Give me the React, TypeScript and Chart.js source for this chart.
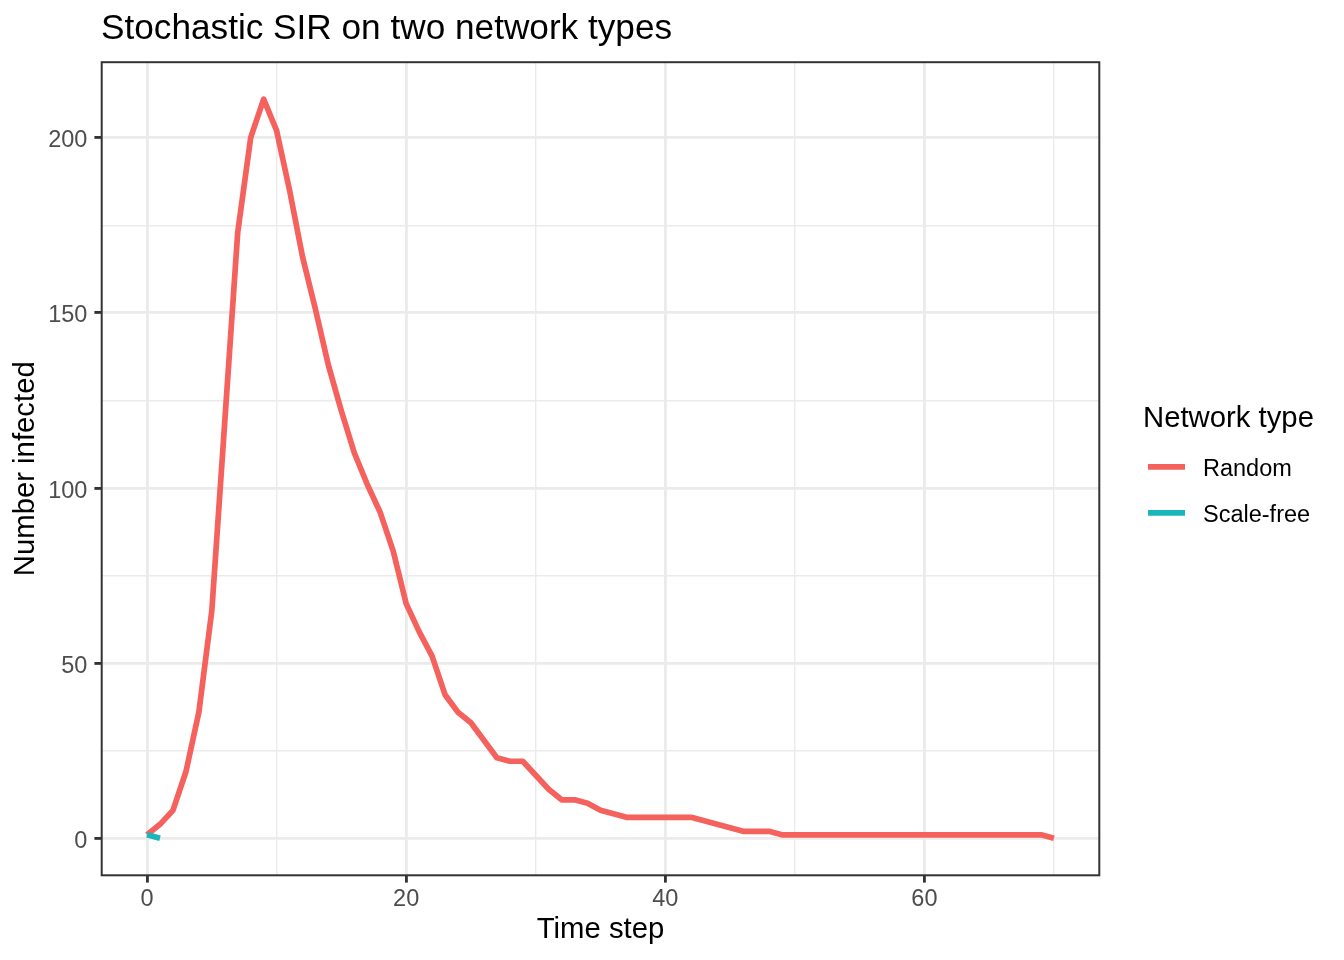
import { useRef, useEffect } from "react";
import { Chart, registerables } from "chart.js";

Chart.register(...registerables);

// Time steps and number infected
const timeSteps = [
  0, 1, 2, 3, 4, 5, 6, 7, 8, 9, 10, 11, 12, 13, 14, 15, 16, 17, 18, 19, 20,
  21, 22, 23, 24, 25, 26, 27, 28, 29, 30, 31, 32, 33, 34, 35, 36, 37, 38, 39,
  40, 41, 42, 43, 44, 45, 46, 47, 48, 49, 50, 51, 52, 53, 54, 55, 56, 57, 58,
  59, 60, 61, 62, 63, 64, 65, 66, 67, 68, 69, 70,
];
const randomInfected = [
  1, 4, 8, 19, 36, 65, 119, 173, 200, 211, 202, 185, 166, 151, 135, 122, 110,
  101, 93, 82, 67, 59, 52, 41, 36, 33, 28, 23, 22, 22, 18, 14, 11, 11, 10, 8,
  7, 6, 6, 6, 6, 6, 6, 5, 4, 3, 2, 2, 2, 1, 1, 1, 1, 1, 1, 1, 1, 1, 1, 1, 1, 1,
  1, 1, 1, 1, 1, 1, 1, 1, 0,
];
const scaleFreeSteps = [0, 1];
const scaleFreeInfected = [1, 0];

const seriesNames = ["Random", "Scale-free"];
const seriesColors = ["#F5615C", "#19B6BB"];

const xMajorTicks = [0, 20, 40, 60];
const xMinorTicks = [10, 30, 50, 70];
const yMajorTicks = [0, 50, 100, 150, 200];
const yMinorTicks = [25, 75, 125, 175];

const FONT = "'Liberation Sans', Arial, Helvetica, sans-serif";

const panelBorder = {
  id: "panelBorder",
  afterDraw(chart: any) {
    const { ctx, chartArea } = chart;
    ctx.save();
    ctx.strokeStyle = "#333333";
    ctx.lineWidth = 2;
    ctx.strokeRect(
      chartArea.left,
      chartArea.top,
      chartArea.right - chartArea.left,
      chartArea.bottom - chartArea.top
    );
    ctx.restore();
  },
};

const titleAndLegend = {
  id: "titleAndLegend",
  afterDraw(chart: any) {
    const { ctx } = chart;
    ctx.save();
    ctx.fillStyle = "#000000";
    ctx.textAlign = "left";
    ctx.textBaseline = "alphabetic";
    ctx.font = `35.2px ${FONT}`;
    ctx.fillText("Stochastic SIR on two network types", 101, 39);

    ctx.font = `29.3px ${FONT}`;
    ctx.fillText("Network type", 1143, 426.7);

    ctx.font = `23.5px ${FONT}`;
    seriesNames.forEach((name, i) => {
      const cy = 466.8 + i * 46;
      ctx.strokeStyle = seriesColors[i];
      ctx.lineWidth = 5.7;
      ctx.lineCap = "butt";
      ctx.beginPath();
      ctx.moveTo(1148, cy);
      ctx.lineTo(1185, cy);
      ctx.stroke();
      ctx.fillStyle = "#000000";
      ctx.fillText(name, 1203, cy + 9.5);
    });
    ctx.restore();
  },
};

export default function App() {
  const canvasRef = useRef<HTMLCanvasElement>(null);

  useEffect(() => {
    let chart: Chart;
    if (canvasRef.current) {
      const isMajor = (axis: number[], v: number) => axis.includes(v);
      chart = new Chart(canvasRef.current, {
        type: "line",
        data: {
          datasets: [
            {
              label: seriesNames[0],
              data: randomInfected.map((y, i) => ({ x: timeSteps[i], y })),
              borderColor: seriesColors[0],
              backgroundColor: seriesColors[0],
              borderWidth: 5.7,
              pointRadius: 0,
              tension: 0,
              borderCapStyle: "butt",
              borderJoinStyle: "round",
              order: 2,
            },
            {
              label: seriesNames[1],
              data: scaleFreeInfected.map((y, i) => ({ x: scaleFreeSteps[i], y })),
              borderColor: seriesColors[1],
              backgroundColor: seriesColors[1],
              borderWidth: 5.7,
              pointRadius: 0,
              tension: 0,
              borderCapStyle: "butt",
              borderJoinStyle: "round",
              order: 1,
            },
          ],
        },
        options: {
          animation: false,
          responsive: true,
          maintainAspectRatio: false,
          layout: { padding: { top: 62.2, right: 244.7, bottom: 0, left: 0 } },
          plugins: {
            legend: { display: false },
            title: { display: false },
            tooltip: { enabled: false },
          },
          scales: {
            x: {
              type: "linear",
              min: -3.5,
              max: 73.5,
              afterFit: (s: any) => {
                s.height = 84.7;
              },
              afterBuildTicks: (s: any) => {
                s.ticks = [...xMajorTicks, ...xMinorTicks]
                  .sort((a, b) => a - b)
                  .map((v) => ({ value: v }));
              },
              border: { display: false },
              grid: {
                color: "#EBEBEB",
                lineWidth: (c: any) => (isMajor(xMajorTicks, c.tick?.value) ? 2.84 : 1.42),
                tickLength: 7.3,
                tickColor: (c: any) => (isMajor(xMajorTicks, c.tick?.value) ? "#333333" : "rgba(0,0,0,0)"),
                tickWidth: (c: any) => (isMajor(xMajorTicks, c.tick?.value) ? 2.84 : 0),
              },
              ticks: {
                autoSkip: false,
                maxRotation: 0,
                padding: 3,
                color: "#4D4D4D",
                font: { family: FONT, size: 23.5 },
                callback: (v: any) => (xMajorTicks.includes(v) ? String(v) : ""),
              },
              title: {
                display: true,
                text: "Time step",
                color: "#000000",
                font: { family: FONT, size: 29.3 },
                padding: { top: 0, bottom: 12.5 },
              },
            },
            y: {
              type: "linear",
              min: -10.55,
              max: 221.55,
              afterFit: (s: any) => {
                s.width = 101.7;
              },
              afterBuildTicks: (s: any) => {
                s.ticks = [...yMajorTicks, ...yMinorTicks]
                  .sort((a, b) => a - b)
                  .map((v) => ({ value: v }));
              },
              border: { display: false },
              grid: {
                color: "#EBEBEB",
                lineWidth: (c: any) => (isMajor(yMajorTicks, c.tick?.value) ? 2.84 : 1.42),
                tickLength: 7.3,
                tickColor: (c: any) => (isMajor(yMajorTicks, c.tick?.value) ? "#333333" : "rgba(0,0,0,0)"),
                tickWidth: (c: any) => (isMajor(yMajorTicks, c.tick?.value) ? 2.84 : 0),
              },
              ticks: {
                autoSkip: false,
                padding: 7,
                labelOffset: 3,
                color: "#4D4D4D",
                font: { family: FONT, size: 23.5 },
                callback: (v: any) => (yMajorTicks.includes(v) ? String(v) : ""),
              },
              title: {
                display: true,
                text: "Number infected",
                color: "#000000",
                font: { family: FONT, size: 29.3 },
                padding: { top: 8.3, bottom: 0 },
              },
            },
          },
        },
        plugins: [panelBorder, titleAndLegend],
      });
    }
    return () => {
      if (chart) {
        chart.destroy();
      }
    };
  }, []);

  return (
    <div style={{ position: "absolute", left: 0, top: 0, width: 1344, height: 960, background: "#ffffff" }}>
      <canvas ref={canvasRef}></canvas>
    </div>
  );
}
